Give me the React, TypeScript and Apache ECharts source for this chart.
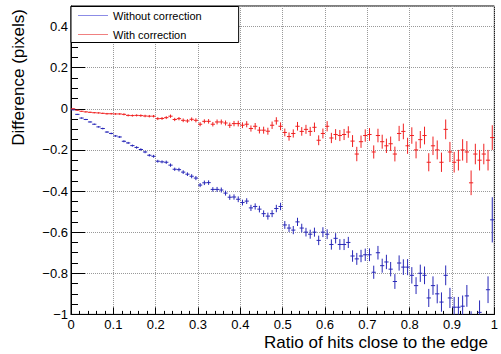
import React, { useEffect, useRef } from "react";
import * as echarts from "echarts";

// Histogram: 100 bins of width 0.01 on [0, 1]
const binLow = 0;
const binWidth = 0.01;

// "Without correction" (blue) bin contents (values below -1 fall outside the frame)
const withoutCorrection: (number | null)[] = [
  -0.005, -0.027, -0.045, -0.052, -0.064, -0.075, -0.088, -0.096, -0.113, -0.12,
  -0.132, -0.137, -0.158, -0.166, -0.179, -0.188, -0.198, -0.21, -0.226, -0.231,
  -0.255, -0.258, -0.26, -0.274, -0.294, -0.296, -0.308, -0.318, -0.328, -0.337,
  -0.371, -0.36, -0.359, -0.392, -0.392, -0.395, -0.41, -0.43, -0.429, -0.44,
  -0.456, -0.449, -0.482, -0.475, -0.488, -0.51, -0.522, -0.51, -0.485, -0.475,
  -0.565, -0.58, -0.59, -0.55, -0.58, -0.6, -0.61, -0.6, -0.64, -0.6,
  -0.61, -0.66, -0.63, -0.66, -0.66, -0.65, -0.716, -0.73, -0.716, -0.71,
  -0.71, -0.795, -0.7, -0.763, -0.745, -0.78, -0.84, -0.75, -0.77, -0.77,
  -0.81, -0.86, -0.8, -0.81, -0.92, -0.86, -0.9, -0.94, -0.81, -0.92,
  -0.965, -0.965, -0.96, -0.91, -1.04, -1.06, -0.99, -1.08, -0.88, -0.54,
];
const withoutCorrectionErr: number[] = [
  0.002, 0.002, 0.003, 0.003, 0.003, 0.003, 0.003, 0.004, 0.004, 0.004,
  0.004, 0.005, 0.005, 0.005, 0.005, 0.006, 0.006, 0.006, 0.006, 0.007,
  0.007, 0.007, 0.008, 0.008, 0.008, 0.009, 0.009, 0.009, 0.01, 0.01,
  0.01, 0.011, 0.011, 0.011, 0.012, 0.012, 0.012, 0.013, 0.013, 0.014,
  0.014, 0.014, 0.015, 0.015, 0.016, 0.016, 0.017, 0.017, 0.018, 0.018,
  0.019, 0.019, 0.02, 0.02, 0.021, 0.021, 0.022, 0.022, 0.023, 0.024,
  0.024, 0.025, 0.025, 0.026, 0.027, 0.027, 0.028, 0.029, 0.03, 0.03,
  0.031, 0.032, 0.033, 0.034, 0.035, 0.035, 0.036, 0.037, 0.038, 0.039,
  0.04, 0.041, 0.042, 0.043, 0.044, 0.045, 0.046, 0.047, 0.048, 0.049,
  0.05, 0.05, 0.052, 0.053, 0.055, 0.056, 0.058, 0.06, 0.065, 0.11,
];

// "With correction" (red) bin contents
const withCorrection: (number | null)[] = [
  0.0, -0.007, -0.012, -0.015, -0.017, -0.019, -0.02, -0.022, -0.024, -0.024,
  -0.025, -0.025, -0.027, -0.032, -0.033, -0.032, -0.033, -0.035, -0.036, -0.036,
  -0.048, -0.047, -0.043, -0.036, -0.052, -0.048, -0.056, -0.059, -0.051, -0.056,
  -0.075, -0.061, -0.061, -0.075, -0.064, -0.064, -0.069, -0.08, -0.072, -0.072,
  -0.08, -0.075, -0.096, -0.085, -0.104, -0.104, -0.109, -0.08, -0.059, -0.085,
  -0.115, -0.135, -0.12, -0.085, -0.11, -0.1, -0.11, -0.09, -0.153, -0.12,
  -0.085, -0.142, -0.125, -0.13, -0.125, -0.113, -0.157, -0.22, -0.16, -0.13,
  -0.125, -0.21, -0.13, -0.16, -0.18, -0.17, -0.22, -0.12, -0.11, -0.18,
  -0.13, -0.2, -0.15, -0.13, -0.26, -0.18, -0.2, -0.26, -0.1, -0.21,
  -0.26, -0.25, -0.2, -0.21, -0.36, -0.22, -0.25, -0.22, -0.25, -0.14,
];
const withCorrectionErr: number[] = [
  0.002, 0.002, 0.002, 0.003, 0.003, 0.003, 0.003, 0.003, 0.004, 0.004,
  0.004, 0.004, 0.005, 0.005, 0.005, 0.005, 0.006, 0.006, 0.006, 0.006,
  0.007, 0.007, 0.007, 0.008, 0.008, 0.008, 0.009, 0.009, 0.009, 0.01,
  0.01, 0.01, 0.011, 0.011, 0.012, 0.012, 0.012, 0.013, 0.013, 0.014,
  0.014, 0.015, 0.015, 0.016, 0.016, 0.017, 0.017, 0.018, 0.018, 0.019,
  0.019, 0.02, 0.02, 0.021, 0.021, 0.022, 0.022, 0.023, 0.024, 0.024,
  0.025, 0.025, 0.026, 0.027, 0.027, 0.028, 0.029, 0.035, 0.03, 0.03,
  0.031, 0.032, 0.033, 0.034, 0.035, 0.035, 0.036, 0.037, 0.038, 0.039,
  0.04, 0.041, 0.042, 0.043, 0.044, 0.045, 0.046, 0.047, 0.048, 0.049,
  0.05, 0.05, 0.052, 0.053, 0.06, 0.05, 0.05, 0.05, 0.05, 0.06,
];

const seriesNames = ["Without correction", "With correction"];
const seriesColors = ["#2828b8", "#f02020"];
const legendColors = ["#8c8ce6", "#f08080"];

const xTitle = "Ratio of hits close to the edge";
const yTitle = "Difference (pixels)";

const FONT = "'Liberation Sans', Arial, Helvetica, sans-serif";

function toPoints(values: (number | null)[], errs: number[]) {
  const pts: number[][] = [];
  values.forEach((v, i) => {
    if (v === null) return;
    pts.push([binLow + (i + 0.5) * binWidth, v, errs[i]]);
  });
  return pts;
}

function errorSeries(name: string, color: string, legendColor: string, data: number[][]) {
  return {
    type: "custom",
    name,
    clip: true,
    itemStyle: { color: legendColor },
    data,
    renderItem: (_params: any, api: any) => {
      const x = api.value(0);
      const y = api.value(1);
      const e = api.value(2);
      const c = api.coord([x, y]);
      const l = api.coord([x - binWidth / 2, y]);
      const r = api.coord([x + binWidth / 2, y]);
      const t = api.coord([x, y + e]);
      const b = api.coord([x, y - e]);
      const style = { stroke: color, lineWidth: 1, fill: null };
      return {
        type: "group",
        children: [
          { type: "line", shape: { x1: l[0], y1: c[1], x2: r[0], y2: c[1] }, style },
          { type: "line", shape: { x1: c[0], y1: t[1], x2: c[0], y2: b[1] }, style },
        ],
      };
    },
  };
}

function fmt(v: number) {
  const s = String(parseFloat(v.toFixed(2)));
  return s.replace("-", "\u2212");
}

export default function App() {
  const ref = useRef<HTMLDivElement>(null);
  useEffect(() => {
    if (!ref.current) return;
    const chart = echarts.init(ref.current, null, { renderer: "svg" });
    chart.setOption({
      animation: false,
      backgroundColor: "#fff",
      textStyle: { fontFamily: FONT },
      grid: {
        left: 71,
        right: 2.7,
        top: 6,
        bottom: 39.6,
        show: true,
        borderColor: "#000",
        borderWidth: 1,
        backgroundColor: "transparent",
      },
      legend: {
        data: seriesNames.map((n) => ({ name: n, icon: "rect" })),
        orient: "vertical",
        left: 71,
        top: 6.5,
        itemWidth: 30,
        itemHeight: 1,
        itemGap: 5,
        padding: [2, 37, 1, 7],
        backgroundColor: "#fff",
        borderColor: "#000",
        borderWidth: 1,
        borderRadius: 0,
        selectedMode: false,
        textStyle: { fontFamily: FONT, fontSize: 11, color: "#000", lineHeight: 14 },
      },
      xAxis: {
        type: "value",
        min: 0,
        max: 1,
        interval: 0.1,
        axisLine: { show: true, onZero: false, lineStyle: { color: "#000", width: 1 } },
        axisTick: { show: true, inside: true, length: 7, lineStyle: { color: "#000" } },
        minorTick: { show: true, splitNumber: 5, length: 3.5, lineStyle: { color: "#000" } },
        axisLabel: { fontFamily: FONT, fontSize: 13, color: "#000", margin: 4, formatter: fmt },
        splitLine: { show: true, lineStyle: { color: "#999", type: [1, 1], width: 1 } },
      },
      yAxis: {
        type: "value",
        min: -1,
        max: 0.5,
        interval: 0.2,
        axisLine: { show: true, onZero: false, lineStyle: { color: "#000", width: 1 } },
        axisTick: { show: true, inside: true, length: 14, lineStyle: { color: "#000" } },
        minorTick: { show: true, splitNumber: 4, length: 7, lineStyle: { color: "#000" } },
        axisLabel: {
          fontFamily: FONT,
          fontSize: 13,
          color: "#000",
          margin: 3,
          showMaxLabel: false,
          formatter: fmt,
        },
        splitLine: { show: true, lineStyle: { color: "#999", type: [1, 1], width: 1 } },
      },
      graphic: [
        {
          type: "text",
          x: 488,
          y: 342,
          style: {
            text: xTitle,
            font: `17px ${FONT}`,
            fill: "#000",
            textAlign: "right",
            textVerticalAlign: "middle",
          },
        },
        {
          type: "text",
          x: 18,
          y: 9,
          rotation: Math.PI / 2,
          style: {
            text: yTitle,
            font: `17px ${FONT}`,
            fill: "#000",
            textAlign: "right",
            textVerticalAlign: "middle",
          },
        },
      ],
      series: [
        errorSeries(seriesNames[0], seriesColors[0], legendColors[0], toPoints(withoutCorrection, withoutCorrectionErr)),
        errorSeries(seriesNames[1], seriesColors[1], legendColors[1], toPoints(withCorrection, withCorrectionErr)),
      ],
    });
    return () => chart.dispose();
  }, []);
  return <div ref={ref} style={{ width: 501, height: 354, position: "absolute", left: 0, top: 0 }} />;
}
